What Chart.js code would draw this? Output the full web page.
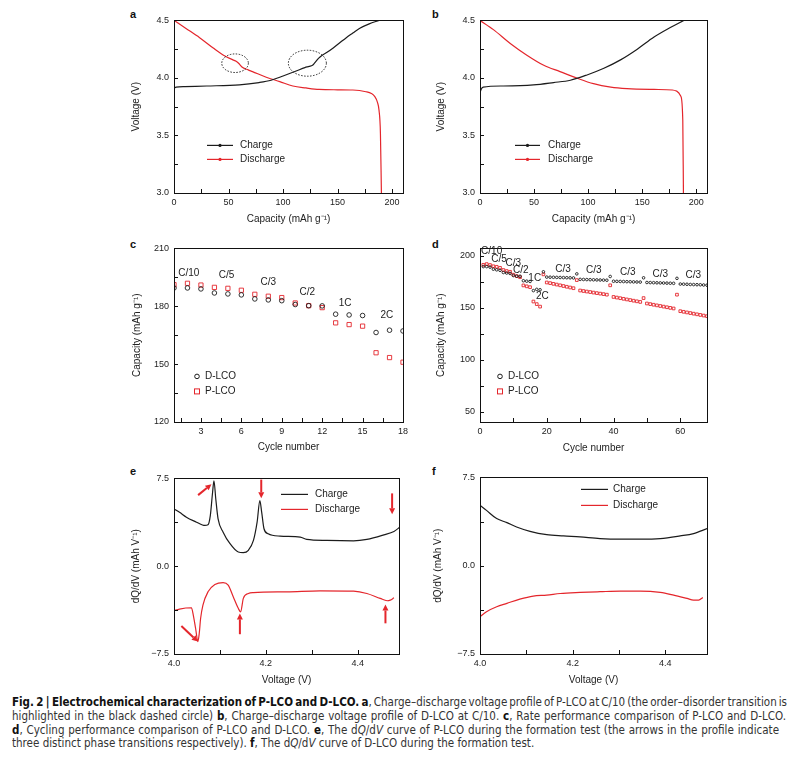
<!DOCTYPE html>
<html>
<head>
<meta charset="utf-8">
<script src="https://cdn.jsdelivr.net/npm/chart.js@4/dist/chart.umd.min.js"></script>
<style>
    body {
        margin: 0;
        width: 798px;
        height: 773px;
        position: relative;
        overflow: hidden;
        background: #fff;
        font-family: "Liberation Sans", Arial, sans-serif;
    }
    canvas { position: absolute; }
    .pl { position: absolute; font-weight: bold; font-size: 11px; color: #111; }
    #caption {
        position: absolute;
        left: 12px;
        top: 696px;
        font-family: "Liberation Sans Narrow", "DejaVu Sans Condensed", "Roboto", sans-serif;
        font-size: 12px;
        line-height: 13.8px;
        color: #333;
    }
    #caption div { white-space: nowrap; }
    #caption span.s { display: inline-block; transform-origin: 0 0; }
    #caption b { color: #111; }
</style>
</head>
<body>
<div class="pl" style="left:130px;top:8px">a</div>
<div class="pl" style="left:432px;top:8px">b</div>
<div class="pl" style="left:130px;top:238px">c</div>
<div class="pl" style="left:432px;top:238px">d</div>
<div class="pl" style="left:130px;top:465px">e</div>
<div class="pl" style="left:432px;top:465px">f</div>

<canvas id="ca"></canvas>
<canvas id="cb"></canvas>
<canvas id="cc"></canvas>
<canvas id="cd"></canvas>
<canvas id="ce"></canvas>
<canvas id="cf"></canvas>

<div id="caption">
    <div><span class="s" data-w="775"><b>Fig. 2 | Electrochemical characterization of P-LCO and D-LCO. a</b>, Charge–discharge voltage profile of P-LCO at C/10 (the order–disorder transition is</span></div>
    <div><span class="s" data-w="774">highlighted in the black dashed circle) <b>b</b>, Charge–discharge voltage profile of D-LCO at C/10. <b>c</b>, Rate performance comparison of P-LCO and D-LCO.</span></div>
    <div><span class="s" data-w="767"><b>d</b>, Cycling performance comparison of P-LCO and D-LCO. <b>e</b>, The d<i>Q</i>/d<i>V</i> curve of P-LCO during the formation test (the arrows in the profile indicate</span></div>
    <div><span class="s">three distinct phase transitions respectively). <b>f</b>, The d<i>Q</i>/d<i>V</i> curve of D-LCO during the formation test.</span></div>
</div>

<script>
// a: P-LCO voltage profile at C/10
const aChargeCap = [0, 2, 10, 30, 60, 78, 89, 100, 112, 120, 124, 127, 129, 132.5, 135.6, 140, 146, 152, 158, 164, 170, 179, 188]
const aChargeV = [3.91, 3.92, 3.925, 3.93, 3.94, 3.96, 3.98, 4.017, 4.06, 4.09, 4.10, 4.11, 4.13, 4.17, 4.195, 4.22, 4.26, 4.305, 4.35, 4.39, 4.43, 4.47, 4.5]
const aDischargeCap = [0, 11, 23.5, 36, 45, 54, 57, 59, 63, 68, 72, 84.6, 97, 109, 121, 133, 150, 164, 176, 181, 184, 186.5, 188, 189.3, 190.2]
const aDischargeV = [4.5, 4.43, 4.35, 4.26, 4.20, 4.157, 4.145, 4.13, 4.09, 4.07, 4.055, 4.006, 3.968, 3.93, 3.913, 3.90, 3.897, 3.895, 3.88, 3.865, 3.84, 3.79, 3.72, 3.52, 3.0]

// b: D-LCO voltage profile at C/10
const bChargeCap = [0, 1, 3, 21.7, 49.5, 68, 83.6, 99, 114.6, 130, 145.5, 161, 176.5, 188.5]
const bChargeV = [3.87, 3.90, 3.92, 3.93, 3.94, 3.96, 3.98, 4.026, 4.084, 4.157, 4.25, 4.355, 4.44, 4.5]
const bDischargeCap = [0, 12.4, 28, 43, 59, 74, 90, 105, 121, 136, 161, 178, 182, 185.8, 187.6, 188.2]
const bDischargeV = [4.5, 4.42, 4.30, 4.20, 4.11, 4.055, 3.997, 3.95, 3.92, 3.907, 3.90, 3.895, 3.885, 3.84, 3.63, 3.0]

const voltTicks = [3.0, 3.5, 4.0, 4.5]
const capTicks = [0, 50, 100, 150, 200]

// c: rate performance
const cCycles = [1, 2, 3, 4, 5, 6, 7, 8, 9, 10, 11, 12, 13, 14, 15, 16, 17, 18]
const cDLCO = [189.5, 189.5, 189, 186.9, 186.4, 185.9, 183.8, 183.3, 182.9, 180.9, 180.3, 180.2, 175.9, 175.5, 175.2, 166.4, 167.6, 167.2]
const cPLCO = [191.2, 191.9, 191.0, 189.8, 189.3, 188.3, 186.2, 185.2, 184.5, 181.7, 180.3, 179.3, 171.4, 170.5, 169.7, 155.9, 153.4, 151.0]
const cRates = ['C/10', 'C/5', 'C/3', 'C/2', '1C', '2C']
const cRateX = [2.1, 4.9, 8.0, 10.9, 13.7, 16.8]
const cRateY = [197.2, 196.2, 192.4, 187.2, 181.7, 175.5]
const cXTicks = [3, 6, 9, 12, 15, 18]
const cYTicks = [120, 150, 180, 210]

// d: cycling performance
const dCycles = []
for (let i = 1; i <= 68; i++) dCycles.push(i)
const dDLCO = [
    189.5, 189.5, 189, 187, 186.4, 185.9, 183.8, 183.3, 182.9, 180.9, 180.3, 180.2,
    175.9, 175.5, 175.2, 166.4, 167.6, 167.2,
    184.5, 179.4, 179.3, 179.2, 179.1, 179.0, 178.9, 178.8, 178.7, 178.6,
    182.5, 177.2, 177.1, 177.0, 176.9, 176.8, 176.7, 176.6, 176.5, 176.4,
    180.0, 175.4, 175.3, 175.2, 175.1, 175.0, 174.9, 174.8, 174.7, 174.6,
    178.7, 174.2, 174.1, 174.0, 173.9, 173.8, 173.7, 173.6, 173.5, 173.4,
    178.2, 172.7, 172.6, 172.5, 172.3, 172.2, 172.1, 172.0, 171.8, 171.6
]
const dPLCO = [
    191.2, 191.9, 191.0, 189.8, 189.3, 188.3, 186.2, 185.2, 184.5, 181.7, 180.3, 179.3,
    171.4, 170.5, 169.7, 155.9, 153.4, 151.0,
    182.0, 174.2, 173.6, 172.9, 172.2, 171.5, 170.8, 170.1, 169.4, 168.7,
    176.5, 166.5, 166.0, 165.5, 165.0, 164.5, 164.0, 163.5, 163.0, 162.5,
    171.5, 160.3, 159.7, 159.1, 158.5, 157.9, 157.3, 156.7, 156.1, 155.5,
    159.2, 154.0, 153.4, 152.8, 152.2, 151.6, 151.0, 150.4, 149.8, 149.2,
    162.5, 146.6, 146.0, 145.4, 144.8, 144.2, 143.6, 143.0, 142.4, 141.8
]
const dRates = ['C/10', 'C/5', 'C/3', 'C/2', '1C', '2C', 'C/3', 'C/3', 'C/3', 'C/3', 'C/3']
const dRateX = [3.5, 5.7, 10.0, 12.2, 16.4, 18.7, 24.9, 34.1, 44.3, 54.0, 63.9]
const dRateY = [204.0, 196.2, 193.0, 186.3, 178.4, 161.2, 187.3, 185.7, 184.1, 182.5, 181.6]
const dXTicks = [0, 20, 40, 60]
const dYTicks = [50, 100, 150, 200]

// e: dQ/dV of P-LCO
const eChargeV = [4.0, 4.012, 4.027, 4.049, 4.062, 4.067, 4.074, 4.079, 4.084, 4.087, 4.091, 4.096, 4.107, 4.122, 4.14, 4.151, 4.162, 4.173, 4.181, 4.187, 4.191, 4.196, 4.205, 4.231, 4.275, 4.289, 4.333, 4.391, 4.42, 4.457, 4.479, 4.492]
const eChargeY = [4.89, 4.6, 4.19, 3.76, 3.52, 3.48, 3.54, 4.3, 6.3, 7.3, 5.74, 4.04, 2.91, 1.92, 1.21, 1.16, 1.36, 2.2, 3.76, 5.6, 4.6, 3.2, 2.77, 2.57, 2.49, 2.29, 2.2, 2.17, 2.29, 2.68, 2.97, 3.34]
const eDischargeV = [4.0, 4.012, 4.038, 4.042, 4.047, 4.052, 4.055, 4.058, 4.063, 4.074, 4.089, 4.107, 4.118, 4.129, 4.14, 4.145, 4.151, 4.162, 4.173, 4.246, 4.318, 4.391, 4.42, 4.449, 4.464, 4.471, 4.479]
const eDischargeY = [-3.8, -3.66, -3.55, -4.17, -5.3, -6.44, -5.73, -4.45, -3.32, -2.19, -1.57, -1.4, -1.62, -2.61, -3.6, -3.9, -2.75, -2.33, -2.25, -2.19, -2.1, -2.13, -2.33, -2.75, -2.95, -2.9, -2.7]

// f: dQ/dV of D-LCO
const fChargeV = [4.0, 4.014, 4.036, 4.058, 4.079, 4.108, 4.144, 4.18, 4.216, 4.259, 4.303, 4.346, 4.389, 4.432, 4.461, 4.49]
const fChargeY = [5.13, 4.7, 4.0, 3.66, 3.29, 2.92, 2.64, 2.53, 2.44, 2.3, 2.25, 2.25, 2.3, 2.53, 2.73, 3.15]
const fDischargeV = [4.0, 4.014, 4.036, 4.058, 4.086, 4.115, 4.144, 4.173, 4.216, 4.259, 4.303, 4.346, 4.389, 4.418, 4.447, 4.461, 4.472, 4.481]
const fDischargeY = [-4.34, -3.91, -3.49, -3.2, -2.84, -2.58, -2.5, -2.36, -2.27, -2.21, -2.16, -2.16, -2.27, -2.5, -2.78, -2.92, -2.92, -2.7]

const dqTicks = [-7.5, 0, 7.5]
const dqXTicks = [4.0, 4.2, 4.4]

const BLACK = '#1c1c1c'
const RED = '#e4262c'
const FONT = '"Liberation Sans", Arial, sans-serif'

Chart.defaults.font.family = FONT
Chart.defaults.color = '#222'

function pts(xs, ys) {
    return xs.map((x, i) => ({ x: x, y: ys[i] }))
}

function fmt1(v) {
    if (v < 0) return '\u2212' + Math.abs(v).toFixed(1)
    return v.toFixed(1)
}

function lineSet(xs, ys, color) {
    return {
        data: pts(xs, ys), showLine: true, borderColor: color, borderWidth: 1.2,
        pointRadius: 0, cubicInterpolationMode: 'monotone'
    }
}

function markSet(xs, ys, color, style, r) {
    return {
        data: pts(xs, ys), showLine: false, borderColor: color, backgroundColor: 'rgba(0,0,0,0)',
        pointStyle: style, pointRadius: r, borderWidth: 0.9
    }
}

// frame, inward ticks, legends, labels, circles and arrows
const deco = {
    id: 'deco',
    afterDraw(chart, args, o) {
        const { ctx, chartArea: a, scales: { x, y } } = chart
        ctx.save()
        ctx.strokeStyle = '#111'
        ctx.lineWidth = 1
        ctx.strokeRect(Math.round(a.left) + 0.5, Math.round(a.top) + 0.5, Math.round(a.right - a.left), Math.round(a.bottom - a.top))
        ctx.beginPath()
        for (let v = o.xFrom; v <= x.max + 1e-9; v += o.xStep) {
            let px = Math.round(x.getPixelForValue(v)) + 0.5
            if (px <= a.left + 1 || px >= a.right - 1) continue
            ctx.moveTo(px, a.bottom)
            ctx.lineTo(px, a.bottom - 4)
        }
        for (let v = o.yFrom; v <= y.max + 1e-9; v += o.yStep) {
            let py = Math.round(y.getPixelForValue(v)) + 0.5
            if (py <= a.top + 1 || py >= a.bottom - 1) continue
            ctx.moveTo(a.left, py)
            ctx.lineTo(a.left + 4, py)
        }
        ctx.stroke()

        ctx.font = '10px ' + FONT
        ctx.textBaseline = 'middle'
        ;(o.legend || []).forEach(it => {
            let x0 = a.left + it.dx, y0 = a.top + it.dy
            ctx.strokeStyle = it.color
            ctx.fillStyle = it.color
            ctx.lineWidth = 1
            if (it.kind === 'line' || it.kind === 'linedot') {
                ctx.lineWidth = 1.2
                ctx.beginPath()
                ctx.moveTo(x0, y0)
                ctx.lineTo(x0 + it.len, y0)
                ctx.stroke()
                if (it.kind === 'linedot') {
                    ctx.beginPath()
                    ctx.arc(x0 + it.len / 2, y0, 1.6, 0, Math.PI * 2)
                    ctx.fill()
                }
            } else if (it.kind === 'circle') {
                ctx.beginPath()
                ctx.arc(x0, y0, 2.3, 0, Math.PI * 2)
                ctx.stroke()
            } else {
                ctx.strokeRect(x0 - 2.5, y0 - 2.5, 5, 5)
            }
            ctx.fillStyle = '#222'
            ctx.textAlign = 'left'
            ctx.fillText(it.text, a.left + it.tx, y0)
        })

        ctx.textAlign = 'center'
        ctx.fillStyle = '#222'
        ;(o.texts || []).forEach(t => {
            ctx.fillText(t.text, x.getPixelForValue(t.x), y.getPixelForValue(t.y))
        })

        ctx.strokeStyle = '#222'
        ctx.lineWidth = 1
        ctx.setLineDash([1.5, 1.5])
        ;(o.ellipses || []).forEach(e => {
            ctx.beginPath()
            ctx.ellipse(x.getPixelForValue(e.x), y.getPixelForValue(e.y), e.rx, e.ry, 0, 0, Math.PI * 2)
            ctx.stroke()
        })
        ctx.setLineDash([])

        ctx.strokeStyle = RED
        ctx.fillStyle = RED
        ;(o.arrows || []).forEach(ar => {
            let x1 = x.getPixelForValue(ar.x1), y1 = y.getPixelForValue(ar.y1)
            let x2 = x.getPixelForValue(ar.x2), y2 = y.getPixelForValue(ar.y2)
            let ang = Math.atan2(y2 - y1, x2 - x1)
            let hl = 6, hw = 3
            let bx = x2 - hl * Math.cos(ang), by = y2 - hl * Math.sin(ang)
            ctx.lineWidth = 2
            ctx.beginPath()
            ctx.moveTo(x1, y1)
            ctx.lineTo(bx, by)
            ctx.stroke()
            ctx.beginPath()
            ctx.moveTo(x2, y2)
            ctx.lineTo(bx + hw * Math.sin(ang), by - hw * Math.cos(ang))
            ctx.lineTo(bx - hw * Math.sin(ang), by + hw * Math.cos(ang))
            ctx.closePath()
            ctx.fill()
        })
        ctx.restore()
    }
}
Chart.register(deco)

function panel(id, box, datasets, sc, decoOpts) {
    let xH = box.xt + 6 - box.b
    let cv = document.getElementById(id)
    let w = box.r - box.l + 60
    let h = box.b - box.t + 10 + xH
    cv.width = w
    cv.height = h
    cv.style.left = (box.l - 50) + 'px'
    cv.style.top = (box.t - 10) + 'px'
    cv.style.width = w + 'px'
    cv.style.height = h + 'px'
    return new Chart(cv, {
        type: 'scatter',
        data: { datasets: datasets },
        options: {
            responsive: false,
            animation: false,
            events: [],
            layout: { padding: { left: 0, top: 10, right: 10, bottom: 0 } },
            plugins: { legend: { display: false }, tooltip: { enabled: false }, deco: decoOpts },
            scales: {
                x: {
                    type: 'linear', min: sc.xMin, max: sc.xMax,
                    grid: { display: false, drawTicks: false }, border: { display: false },
                    afterBuildTicks: s => { s.ticks = sc.xTicks.map(v => ({ value: v })) },
                    afterFit: s => { s.height = xH },
                    ticks: { padding: 4, font: { size: 9 }, maxRotation: 0, autoSkip: false, color: '#222', callback: sc.xFmt },
                    title: { display: true, text: sc.xTitle, font: { size: 10 }, color: '#222', padding: 0 }
                },
                y: {
                    type: 'linear', min: sc.yMin, max: sc.yMax,
                    grid: { display: false, drawTicks: false }, border: { display: false },
                    afterBuildTicks: s => { s.ticks = sc.yTicks.map(v => ({ value: v })) },
                    afterFit: s => { s.width = 50 },
                    ticks: { padding: 5, font: { size: 9 }, autoSkip: false, color: '#222', callback: sc.yFmt },
                    title: { display: true, text: sc.yTitle, font: { size: 10 }, color: '#222', padding: { top: box.yt - (box.l - 50) - 6, bottom: 0 } }
                }
            }
        }
    })
}

const intFmt = v => String(v)

// a
panel('ca', { l: 174, r: 403, t: 20, b: 193, xt: 219, yt: 136 },
    [lineSet(aChargeCap, aChargeV, BLACK), lineSet(aDischargeCap, aDischargeV, RED)],
    { xMin: 0, xMax: 210, yMin: 3.0, yMax: 4.5, xTicks: capTicks, yTicks: voltTicks, xFmt: intFmt, yFmt: fmt1,
      xTitle: 'Capacity (mAh g\u207B\u00B9)', yTitle: 'Voltage (V)' },
    { xFrom: 0, xStep: 25, yFrom: 3.0, yStep: 0.25,
      legend: [
          { kind: 'linedot', color: BLACK, dx: 33, dy: 125, len: 26, tx: 66, text: 'Charge' },
          { kind: 'linedot', color: RED, dx: 33, dy: 139, len: 26, tx: 66, text: 'Discharge' }
      ],
      ellipses: [{ x: 56, y: 4.128, rx: 13.3, ry: 9.3 }, { x: 122.3, y: 4.128, rx: 19, ry: 13 }] })

// b
panel('cb', { l: 480, r: 707, t: 20, b: 193, xt: 219, yt: 441 },
    [lineSet(bChargeCap, bChargeV, BLACK), lineSet(bDischargeCap, bDischargeV, RED)],
    { xMin: 0, xMax: 210, yMin: 3.0, yMax: 4.5, xTicks: capTicks, yTicks: voltTicks, xFmt: intFmt, yFmt: fmt1,
      xTitle: 'Capacity (mAh g\u207B\u00B9)', yTitle: 'Voltage (V)' },
    { xFrom: 0, xStep: 25, yFrom: 3.0, yStep: 0.25,
      legend: [
          { kind: 'linedot', color: BLACK, dx: 35, dy: 125, len: 25, tx: 68, text: 'Charge' },
          { kind: 'linedot', color: RED, dx: 35, dy: 139, len: 25, tx: 68, text: 'Discharge' }
      ] })

// c
panel('cc', { l: 174, r: 403, t: 248, b: 422, xt: 447, yt: 137 },
    [markSet(cCycles, cDLCO, BLACK, 'circle', 2.3), markSet(cCycles, cPLCO, RED, 'rect', 3)],
    { xMin: 1, xMax: 18, yMin: 120, yMax: 210, xTicks: cXTicks, yTicks: cYTicks, xFmt: intFmt, yFmt: intFmt,
      xTitle: 'Cycle number', yTitle: 'Capacity (mAh g\u207B\u00B9)' },
    { xFrom: 1.5, xStep: 1.5, yFrom: 120, yStep: 15,
      legend: [
          { kind: 'circle', color: BLACK, dx: 23, dy: 128, tx: 31, text: 'D-LCO' },
          { kind: 'square', color: RED, dx: 23, dy: 143, tx: 31, text: 'P-LCO' }
      ],
      texts: cRates.map((t, i) => ({ text: t, x: cRateX[i], y: cRateY[i] })) })

// d
panel('cd', { l: 480, r: 707, t: 248, b: 422, xt: 448, yt: 441 },
    [markSet(dCycles, dDLCO, BLACK, 'circle', 1.3), markSet(dCycles, dPLCO, RED, 'rect', 1.9)],
    { xMin: 0, xMax: 68, yMin: 40, yMax: 207, xTicks: dXTicks, yTicks: dYTicks, xFmt: intFmt, yFmt: intFmt,
      xTitle: 'Cycle number', yTitle: 'Capacity (mAh g\u207B\u00B9)' },
    { xFrom: 0, xStep: 10, yFrom: 50, yStep: 25,
      legend: [
          { kind: 'circle', color: BLACK, dx: 20, dy: 128, tx: 28, text: 'D-LCO' },
          { kind: 'square', color: RED, dx: 20, dy: 143, tx: 28, text: 'P-LCO' }
      ],
      texts: dRates.map((t, i) => ({ text: t, x: dRateX[i], y: dRateY[i] })) })

// e
panel('ce', { l: 174, r: 399, t: 478, b: 654, xt: 680, yt: 136 },
    [lineSet(eChargeV, eChargeY, BLACK), lineSet(eDischargeV, eDischargeY, RED)],
    { xMin: 4.0, xMax: 4.49, yMin: -7.5, yMax: 7.5, xTicks: dqXTicks, yTicks: dqTicks, xFmt: fmt1, yFmt: fmt1,
      xTitle: 'Voltage (V)', yTitle: 'dQ/dV (mAh V\u207B\u00B9)' },
    { xFrom: 4.0, xStep: 0.1, yFrom: -7.5, yStep: 3.75,
      legend: [
          { kind: 'line', color: BLACK, dx: 107, dy: 16, len: 27, tx: 141, text: 'Charge' },
          { kind: 'line', color: RED, dx: 107, dy: 31, len: 27, tx: 141, text: 'Discharge' }
      ],
      arrows: [
          { x1: 4.0525, y1: 6.07, x2: 4.0816, y2: 7.0 },
          { x1: 4.19, y1: 7.4, x2: 4.19, y2: 5.8 },
          { x1: 4.475, y1: 6.22, x2: 4.475, y2: 4.43 },
          { x1: 4.016, y1: -5.11, x2: 4.052, y2: -6.44 },
          { x1: 4.1435, y1: -5.81, x2: 4.1435, y2: -4.03 },
          { x1: 4.4605, y1: -4.88, x2: 4.4605, y2: -3.27 }
      ] })

// f
panel('cf', { l: 480, r: 707, t: 477, b: 654, xt: 680, yt: 438 },
    [lineSet(fChargeV, fChargeY, BLACK), lineSet(fDischargeV, fDischargeY, RED)],
    { xMin: 4.0, xMax: 4.49, yMin: -7.5, yMax: 7.5, xTicks: dqXTicks, yTicks: dqTicks, xFmt: fmt1, yFmt: fmt1,
      xTitle: 'Voltage (V)', yTitle: 'dQ/dV (mAh V\u207B\u00B9)' },
    { xFrom: 4.0, xStep: 0.1, yFrom: -7.5, yStep: 3.75,
      legend: [
          { kind: 'line', color: BLACK, dx: 101, dy: 12, len: 27, tx: 133, text: 'Charge' },
          { kind: 'line', color: RED, dx: 101, dy: 28, len: 27, tx: 133, text: 'Discharge' }
      ] })

// caption: one shared horizontal squeeze, then small word spacing to fill the full lines
let spans = Array.from(document.querySelectorAll('#caption span.s'))
let full = spans.filter(sp => sp.dataset.w)
let k = 0
full.forEach(sp => { k += parseFloat(sp.dataset.w) / sp.getBoundingClientRect().width })
k = k / full.length
spans.forEach(sp => {
    if (sp.dataset.w) {
        let target = parseFloat(sp.dataset.w) / k
        let nat = sp.getBoundingClientRect().width
        let n = (sp.textContent.match(/ /g) || []).length
        if (n > 0) sp.style.wordSpacing = ((target - nat) / n) + 'px'
    }
    sp.style.transform = 'scaleX(' + k + ')'
})
</script>
</body>
</html>
